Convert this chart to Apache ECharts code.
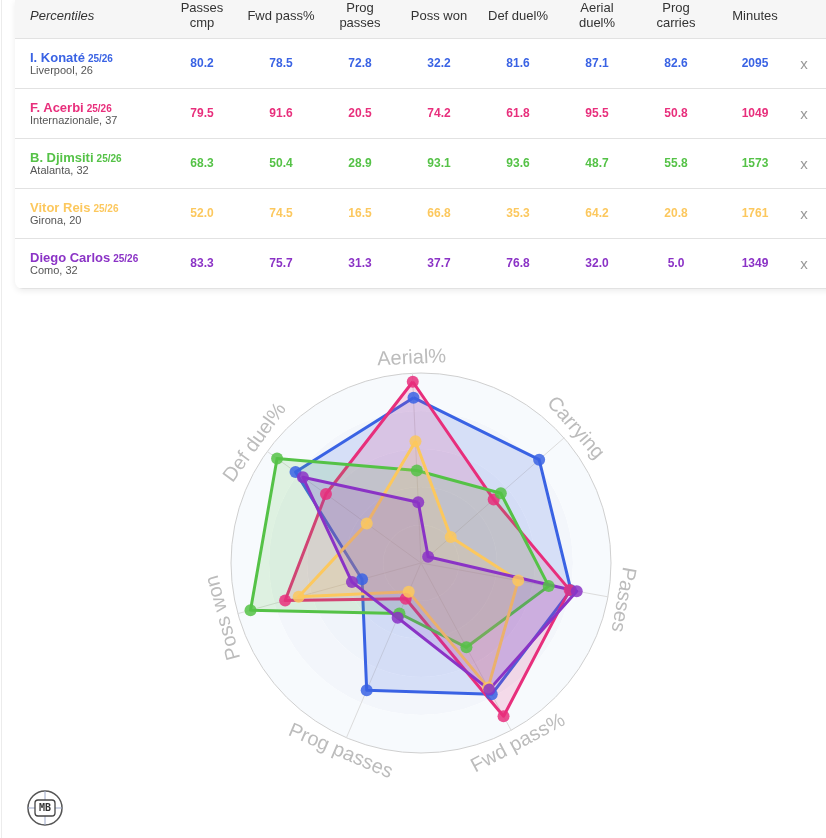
<!DOCTYPE html>
<html>
<head>
<meta charset="utf-8">
<script src="https://cdn.jsdelivr.net/npm/echarts@6/dist/echarts.min.js"></script>
<style>
  html, body { margin:0; padding:0; width:826px; height:838px; overflow:hidden; background:#fff;
    font-family: "Liberation Sans", Arial, Helvetica, sans-serif; }
  #pageline { position:absolute; left:1px; top:0; width:1px; height:838px; background:#ececec; }
  #chart { position:absolute; left:0; top:0; width:826px; height:838px; }
  #card { position:absolute; left:15px; top:0; width:830px; height:289px; background:#fff;
    border-radius:0 0 8px 8px; box-shadow:0 2px 6px rgba(0,0,0,0.08); overflow:hidden; z-index:2; }
  #card .hdr { position:absolute; left:0; top:0; width:100%; height:38px; background:#f6f6f6;
    border-bottom:1px solid #e2e2e2; }
  .cell { position:absolute; text-align:center; white-space:nowrap; }
  .hcell { position:absolute; top:0; height:30px; display:flex; align-items:center; justify-content:center;
    text-align:center; font-size:13px; line-height:15px; color:#333; }
  .row { position:absolute; left:0; width:100%; border-bottom:1px solid #e2e2e2; }
  .nm { position:absolute; left:15px; font-weight:bold; font-size:13px; line-height:15px; white-space:nowrap; }
  .nm small { font-size:10px; font-weight:bold; margin-left:3px; }
  .sub { position:absolute; left:15px; font-size:11px; line-height:13px; color:#555; white-space:nowrap; }
  .val { position:absolute; width:80px; text-align:center; font-weight:bold; font-size:12px; line-height:14px; }
  .xx { position:absolute; width:20px; text-align:center; font-size:15px; line-height:16px; color:#999; }
</style>
</head>
<body>
<div id="pageline"></div>
<div id="chart"></div>
<div id="card"><div class="hdr"></div></div>
<script>
// ---- data ----
const players = ['I. Konaté', 'F. Acerbi', 'B. Djimsiti', 'Vitor Reis', 'Diego Carlos'];
const seasons = ['25/26', '25/26', '25/26', '25/26', '25/26'];
const clubs = ['Liverpool, 26', 'Internazionale, 37', 'Atalanta, 32', 'Girona, 20', 'Como, 32'];
const columnHeaders = ['Passes<br>cmp', 'Fwd pass%', 'Prog<br>passes', 'Poss won', 'Def duel%', 'Aerial<br>duel%', 'Prog<br>carries', 'Minutes'];
const passesCmp   = [80.2, 79.5, 68.3, 52.0, 83.3];
const fwdPass     = [78.5, 91.6, 50.4, 74.5, 75.7];
const progPasses  = [72.8, 20.5, 28.9, 16.5, 31.3];
const possWon     = [32.2, 74.2, 93.1, 66.8, 37.7];
const defDuel     = [81.6, 61.8, 93.6, 35.3, 76.8];
const aerialDuel  = [87.1, 95.5, 48.7, 64.2, 32.0];
const progCarries = [82.6, 50.8, 55.8, 20.8, 5.0];
const minutes     = [2095, 1049, 1573, 1761, 1349];
const colors = ['#3a63e4', '#e82f7c', '#55c247', '#fcc85e', '#8b33c6'];
// radar axes, in drawing order (counter-clockwise from the top)
const radarAxes = ['Aerial%', 'Def duel%', 'Poss won', 'Prog passes', 'Fwd pass%', 'Passes', 'Carrying'];
const radarColumns = [aerialDuel, defDuel, possWon, progPasses, fwdPass, passesCmp, progCarries];

// ---- table ----
const card = document.getElementById('card');
const colCenters = [187, 266, 345, 424, 503, 582, 661, 740]; // relative to card
const tableCols = [passesCmp, fwdPass, progPasses, possWon, defDuel, aerialDuel, progCarries, minutes];
let html = '<div class="hcell" style="left:15px;justify-content:flex-start;font-style:italic;">Percentiles</div>';
columnHeaders.forEach((h, i) => {
  html += `<div class="hcell" style="left:${colCenters[i]-45}px;width:90px;">${h}</div>`;
});
const rowTop = 38.5, rowH = 50.2;
players.forEach((p, r) => {
  const t = rowTop + r * rowH;
  const c = colors[r];
  html += `<div class="row" style="top:${t}px;height:${rowH-1}px;">`;
  html += `<div class="nm" style="top:11px;color:${c}">${p}<small>${seasons[r]}</small></div>`;
  html += `<div class="sub" style="top:25px;">${clubs[r]}</div>`;
  tableCols.forEach((col, i) => {
    const v = i === 7 ? String(col[r]) : col[r].toFixed(1);
    html += `<div class="val" style="left:${colCenters[i]-40}px;top:17px;color:${c}">${v}</div>`;
  });
  html += `<div class="xx" style="left:779px;top:17px;">x</div>`;
  html += '</div>';
});
card.innerHTML += html;

// ---- radar ----
const CX = 421, CY = 563, R = 190, START = 92.6, LABEL_R = 205;
const chart = echarts.init(document.getElementById('chart'), null, { renderer: 'canvas' });

function hexA(hex, a) {
  const n = parseInt(hex.slice(1), 16);
  return `rgba(${(n>>16)&255},${(n>>8)&255},${n&255},${a})`;
}

const labelGraphics = radarAxes.map((name, i) => {
  const th = START + i * 360 / radarAxes.length;
  const rad = th * Math.PI / 180;
  const flip = Math.sin(rad) < -0.6;
  const rot = (flip ? th + 90 : th - 90) * Math.PI / 180;
  return {
    type: 'text', x: CX + LABEL_R * Math.cos(rad), y: CY - LABEL_R * Math.sin(rad), rotation: rot,
    style: { text: name, fill: '#bcbcbc', font: '20px "Liberation Sans", Arial, sans-serif',
      align: 'center', verticalAlign: 'middle' }
  };
});

const logo = {
  type: 'group', x: 45, y: 808,
  children: [
    { type: 'circle', shape: { cx: 0, cy: 0, r: 17 }, style: { fill: 'none', stroke: '#555', lineWidth: 1.5 } },
    { type: 'line', shape: { x1: 0, y1: -17, x2: 0, y2: 17 }, style: { stroke: '#9aa6c8', lineWidth: 1 } },
    { type: 'line', shape: { x1: -17, y1: 0, x2: 17, y2: 0 }, style: { stroke: '#9aa6c8', lineWidth: 1 } },
    { type: 'rect', shape: { x: -10, y: -8, width: 20, height: 16, r: 3 }, style: { fill: '#fff', stroke: '#444', lineWidth: 1.3 } },
    { type: 'text', x: 0, y: 0.5, style: { text: 'MB', fill: '#333', font: 'bold 10px "DejaVu Sans Mono", monospace', align: 'center', verticalAlign: 'middle' } }
  ]
};

chart.setOption({
  animation: false,
  radar: {
    center: [CX, CY], radius: R, startAngle: START, shape: 'circle', splitNumber: 5,
    indicator: radarAxes.map(n => ({ name: n, max: 100, min: 0 })),
    axisName: { show: false },
    axisLine: { lineStyle: { color: '#dcdcdc', width: 1 } },
    splitLine: { lineStyle: { color: ['rgba(0,0,0,0)', 'rgba(0,0,0,0)', 'rgba(0,0,0,0)', 'rgba(0,0,0,0)', 'rgba(0,0,0,0)', '#cfcfcf'], width: 1 } },
    splitArea: { show: true, areaStyle: { color: ['#eef2f8', '#eef3f9', '#f0f4fa', '#f3f6fb', '#f7fafd'] } }
  },
  series: [{
    type: 'radar',
    symbol: 'circle', symbolSize: 12,
    data: players.map((p, r) => ({
      name: p,
      value: radarColumns.map(col => col[r]),
      lineStyle: { color: colors[r], width: 3 },
      itemStyle: { color: colors[r], opacity: 0.85 },
      areaStyle: { color: hexA(colors[r], 0.22) }
    }))
  }],
  graphic: labelGraphics.concat([logo])
});
</script>
</body>
</html>
